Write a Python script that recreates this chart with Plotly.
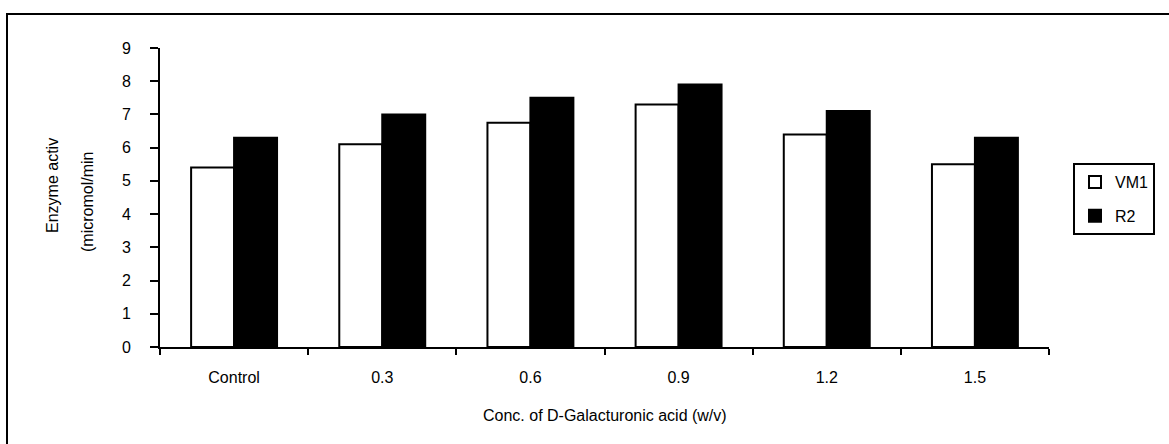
import plotly.graph_objects as go

# Enzyme activity of two strains at increasing D-galacturonic acid concentrations
categories = ["Control", "0.3", "0.6", "0.9", "1.2", "1.5"]
vm1_activity = [5.4, 6.1, 6.75, 7.3, 6.4, 5.5]
r2_activity = [6.3, 7.0, 7.5, 7.9, 7.1, 6.3]

FONT = "Liberation Sans, Arial, sans-serif"
FS = 16
W, H = 1169, 444
ML, MR, MT, MB = 160, 120, 48, 97
PW = W - ML - MR
PH = H - MT - MB


def px_x(x):
    return (x - ML) / PW


def px_y(y):
    return (H - MB - y) / PH


fig = go.Figure()
fig.add_trace(go.Bar(
    name="VM1", x=categories, y=vm1_activity, legendgroup="vm1",
    marker=dict(color="white", line=dict(color="black", width=2)),
))
fig.add_trace(go.Bar(
    name="R2", x=categories, y=r2_activity, legendgroup="r2",
    marker=dict(color="black", line=dict(color="black", width=2)),
))

fig.update_layout(
    width=W, height=H,
    margin=dict(l=ML, r=MR, t=MT, b=MB, pad=0),
    paper_bgcolor="white", plot_bgcolor="white",
    barmode="group", bargap=0.42, bargroupgap=0,
    font=dict(family=FONT, size=FS, color="black"),
    showlegend=True,
    legend=dict(
        x=px_x(1073), y=px_y(163), xanchor="left", yanchor="top",
        bordercolor="black", borderwidth=2, bgcolor="white",
        font=dict(family=FONT, size=FS, color="black"),
        traceorder="grouped", tracegroupgap=10,
        itemwidth=30, entrywidth=90, entrywidthmode="pixels",
    ),
    xaxis=dict(
        type="category", showgrid=False, zeroline=False,
        showline=True, linecolor="black", linewidth=2,
        ticks="outside", tickson="boundaries", ticklen=6, tickwidth=2,
        tickcolor="black", ticklabelstandoff=15,
        tickfont=dict(family=FONT, size=FS, color="black"),
    ),
    yaxis=dict(
        range=[0, 9], dtick=1, showgrid=False, zeroline=False,
        showline=True, linecolor="black", linewidth=2,
        ticks="outside", ticklen=8, tickwidth=2, tickcolor="black",
        ticklabelstandoff=16,
        tickfont=dict(family=FONT, size=FS, color="black"),
    ),
)

# Axis titles
fig.add_annotation(
    text="Conc. of D-Galacturonic acid (w/v)",
    xref="paper", yref="paper", x=0.5, y=px_y(415),
    xanchor="center", yanchor="middle", showarrow=False,
    font=dict(family=FONT, size=FS, color="black"),
)
fig.add_annotation(
    text="Enzyme activ",
    xref="paper", yref="paper", x=px_x(52), y=px_y(186),
    xanchor="center", yanchor="middle", textangle=-90, showarrow=False,
    font=dict(family=FONT, size=FS, color="black"),
)
fig.add_annotation(
    text="(micromol/min",
    xref="paper", yref="paper", x=px_x(87), y=px_y(202),
    xanchor="center", yanchor="middle", textangle=-90, showarrow=False,
    font=dict(family=FONT, size=FS, color="black"),
)

# Outer chart frame, running off the right and bottom edges
fig.add_shape(
    type="rect", xref="paper", yref="paper",
    x0=px_x(7), y0=px_y(460), x1=px_x(1185), y1=px_y(14),
    line=dict(color="black", width=2), fillcolor="rgba(0,0,0,0)",
    layer="below",
)

fig.write_html("out.html")
